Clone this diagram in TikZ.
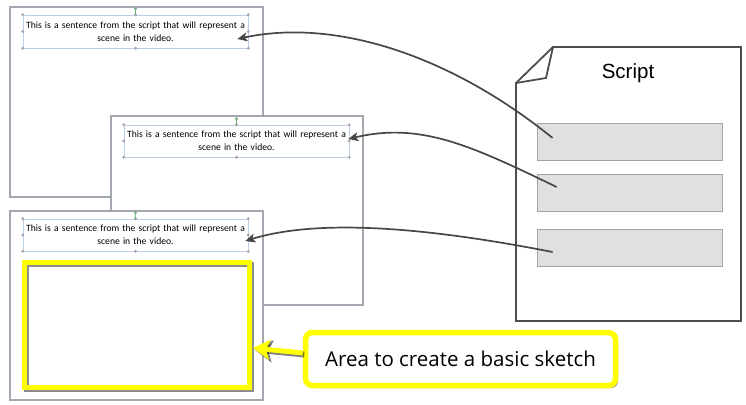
\documentclass[tikz,border=0pt]{standalone}
\usepackage{fontspec}
\setmainfont{Carlito}
\newfontfamily\calloutfont{Open Sans}
\newfontfamily\docfont{Liberation Sans}
\usetikzlibrary{arrows.meta,shadows}
\definecolor{framegray}{HTML}{A3A8B0}
\definecolor{boxblue}{HTML}{BCCDE6}
\definecolor{handlegray}{HTML}{A8A8A8}
\definecolor{handlegreen}{HTML}{6FAF80}
\definecolor{conngray}{HTML}{474747}
\definecolor{pagegray}{HTML}{4D4D4D}
\definecolor{scriptfill}{HTML}{E0E0E0}
\definecolor{scriptedge}{HTML}{A4A4A4}
\definecolor{hiyellow}{HTML}{FFFF00}
\begin{document}
\begin{tikzpicture}[x=1pt,y=-1pt,
  slideframe/.style={draw=framegray, line width=1.8pt, fill=white, minimum width=253pt, minimum height=190pt, anchor=north west, inner sep=0pt, outer sep=0pt},
  textbox/.style={draw=boxblue, line width=0.6pt, minimum width=225pt, minimum height=32pt, inner sep=0pt, align=center, text width=222pt, font=\fontsize{9.6}{12.8}\selectfont, text=black},
  handle/.style={fill=handlegray},
  conn/.style={draw=conngray, line width=1.7pt, -{Stealth[length=10pt,width=9pt,inset=2.5pt]}},
  graybox/.style={draw=scriptedge, fill=scriptfill, line width=0.8pt, minimum width=185pt, minimum height=37pt, inner sep=0pt},
  sketchbox/.style={draw=hiyellow, line width=5pt, minimum width=225pt, minimum height=125pt, inner sep=0pt},
  sketchshadow/.style={draw=black, opacity=0.45, line width=5pt, minimum width=225pt, minimum height=125pt, inner sep=0pt},
  callout/.style={draw=hiyellow, fill=white, line width=5.5pt, rounded corners=7pt, minimum width=310pt, minimum height=53pt, inner sep=0pt, font=\calloutfont\fontsize{20.5}{24}\selectfont,
    drop shadow={shadow xshift=2.5pt, shadow yshift=-2.5pt, opacity=0.45, fill=black}},
  yarrow/.style={draw=hiyellow, fill=hiyellow, line width=5pt, -{Stealth[length=17pt,width=20pt,inset=4pt]}},
  yarrowshadow/.style={draw=black, fill=black, opacity=0.5, line width=6pt, -{Stealth[length=18pt,width=22pt,inset=4pt]}},
]
\useasboundingbox (0,0) rectangle (746,404);
\fill[white] (0,0) rectangle (746,404);

% slide frames (back to front)
\node[slideframe] (f1) at (10,7) {};
\node[slideframe, minimum width=252pt, minimum height=189pt] (f2) at (111,116) {};
\node[slideframe, minimum height=189pt] (f3) at (10,211) {};

% text boxes with handles
\node[textbox, minimum height=33pt] (t1) at (135.5,31.5) {This is a sentence from the script that will represent a\\scene in the video.};
\node[textbox] (t2) at (236.5,141) {This is a sentence from the script that will represent a\\scene in the video.};
\node[textbox] (t3) at (135.5,235) {This is a sentence from the script that will represent a\\scene in the video.};
\foreach \t in {t1,t2,t3}{
  \foreach \a in {north west,north,north east,east,south east,south,south west,west}{
    \fill[handle] (\t.\a) circle (1.6pt);
  }
  \draw[handlegreen, line width=0.6pt] (\t.north) -- ++(0,-6);
  \fill[handlegreen] ([yshift=6pt]\t.north) circle (1.6pt);
}

% sketch area
\node[sketchshadow] (sks) at (139,327) {};
\node[sketchbox] (sk) at (137,325) {};

% script page
\draw[pagegray, line width=1.8pt, fill=white, line join=miter]
  (553,47) -- (741,47) -- (741,321) -- (516,321) -- (516,83) -- cycle;
\draw[pagegray, line width=1.8pt, line join=miter] (553,47) -- (546,78) -- (516,83);
\node[font=\docfont\fontsize{20.5}{24}\selectfont] (stitle) at (628,73) {Script};
\node[graybox] (g1) at (629.5,141.5) {};
\node[graybox] (g2) at (629.5,192.5) {};
\node[graybox] (g3) at (629.5,247.5) {};

% connector ends
\coordinate (s1) at ([xshift=16pt,yshift=3.5pt]g1.west);
\coordinate (s2) at ([xshift=20pt,yshift=5.5pt]g2.west);
\coordinate (s3) at ([xshift=16pt,yshift=-4.5pt]g3.west);
\coordinate (e1) at ([xshift=-11pt,yshift=-7.5pt]t1.east);
\coordinate (e2) at ([xshift=-1pt,yshift=2pt]t2.east);
\coordinate (e3) at ([xshift=-3pt,yshift=-6pt]t3.east);

\draw[conn] (s1) .. controls (450,55) and (335,18) .. (e1);
\draw[conn] (s2) .. controls (470,145) and (420,122) .. (e2);
\draw[conn] (s3) .. controls (430,228) and (320,218) .. (e3);

% callout
\node[callout] (c) at (460.5,359) {Area to create a basic sketch};
\coordinate (ya) at ([yshift=6pt]c.west);
\coordinate (yb) at ([xshift=1pt,yshift=-23pt]sk.east);
\draw[yarrowshadow] ([xshift=1.5pt,yshift=-1.5pt]ya) -- ([xshift=1.5pt,yshift=-1.5pt]yb);
\draw[yarrow] (ya) -- (yb);
\end{tikzpicture}
\end{document}
